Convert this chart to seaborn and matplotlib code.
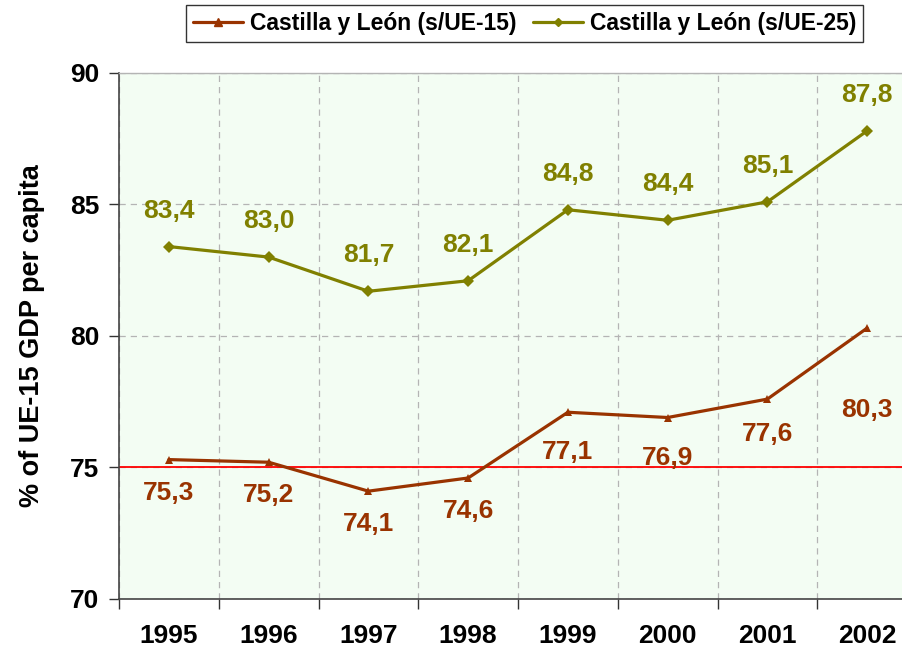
import numpy as np
import pandas as pd
import matplotlib.pyplot as plt
import seaborn as sns
from matplotlib.lines import Line2D

# Chart values
years = ['1995', '1996', '1997', '1998', '1999', '2000', '2001', '2002']
ue15 = [75.3, 75.2, 74.1, 74.6, 77.1, 76.9, 77.6, 80.3]
ue25 = [83.4, 83.0, 81.7, 82.1, 84.8, 84.4, 85.1, 87.8]
name15 = 'Castilla y León (s/UE-15)'
name25 = 'Castilla y León (s/UE-25)'

c15 = '#993300'
c25 = '#808000'

sns.set_theme(style='white')
plt.rcParams['font.family'] = ['Liberation Sans', 'DejaVu Sans']
plt.rcParams['font.weight'] = 'bold'
plt.rcParams['text.color'] = 'black'
plt.rcParams['axes.labelcolor'] = 'black'
plt.rcParams['xtick.labelcolor'] = 'black'
plt.rcParams['ytick.labelcolor'] = 'black'

pos = np.arange(len(years))
df = pd.DataFrame({
    'pos': np.concatenate([pos, pos]),
    'value': ue15 + ue25,
    'series': [name15] * len(years) + [name25] * len(years),
})

fig = plt.figure(figsize=(9.03, 6.5), dpi=100)
ax = fig.add_axes([0.1318, 0.0785, 0.8837, 0.8092])
ax.set_facecolor('#f3fdf3')

sns.lineplot(data=df, x='pos', y='value', hue='series', style='series',
             palette={name15: c15, name25: c25},
             markers={name15: '^', name25: 'D'}, dashes=False,
             linewidth=2.3, markersize=6, markeredgewidth=0,
             legend=False, ax=ax)

# reference line at 75
ax.axhline(75, color='#ff0000', linewidth=1.3, zorder=1)

ax.set_xlim(-0.5, len(years) - 0.5)
ax.set_ylim(70, 90)
ax.set_yticks([70, 75, 80, 85, 90])

# ticks at band edges, labels at centres
ax.set_xticks(np.arange(len(years) + 1) - 0.5)
ax.set_xticklabels([])
ax.set_xticks(pos, minor=True)
ax.set_xticklabels(years, minor=True)
ax.tick_params(axis='x', which='major', length=7, width=1, color='#333333',
               direction='out', bottom=True)
ax.tick_params(axis='x', which='minor', length=0, pad=18, labelsize=19,
               labelcolor='black')
ax.tick_params(axis='y', length=7, width=1, color='#333333', direction='out',
               left=True, pad=7, labelsize=19, labelcolor='black')
for lab in ax.get_xticklabels(minor=True) + ax.get_yticklabels():
    lab.set_fontweight('bold')

ax.grid(True, which='major', color='#b4b4b4', linestyle=(0, (5, 4)), linewidth=0.9)
ax.set_axisbelow(True)
for side in ['left', 'bottom']:
    ax.spines[side].set_color('#444444')
    ax.spines[side].set_linewidth(1.2)
ax.spines['top'].set_color('#b4b4b4')
ax.spines['top'].set_linewidth(1)
ax.spines['right'].set_visible(False)

ax.set_xlabel('')
ax.set_ylabel('% of UE-15 GDP per capita', fontsize=19.5, fontweight='bold',
              color='black', labelpad=18)

# data labels
below = [-33, -33, -33, -33, -40, -40, -35, -82]
for i, v in enumerate(ue15):
    ax.annotate(f'{v:.1f}'.replace('.', ','), (pos[i], v), xytext=(0, below[i]),
                textcoords='offset pixels', ha='center', va='center',
                fontsize=19, fontweight='bold', color=c15)
for i, v in enumerate(ue25):
    ax.annotate(f'{v:.1f}'.replace('.', ','), (pos[i], v), xytext=(0, 36),
                textcoords='offset pixels', ha='center', va='center',
                fontsize=19, fontweight='bold', color=c25)

handles = [Line2D([], [], color=c15, marker='^', markersize=6, linewidth=2.3),
           Line2D([], [], color=c25, marker='D', markersize=4.5, linewidth=2.3)]
leg = fig.legend(handles, [name15, name25], loc='center', ncol=2,
                 bbox_to_anchor=(0.581, 0.964), frameon=True, fancybox=False,
                 handlelength=2.2, handletextpad=0.3, columnspacing=0.7,
                 borderpad=0.3, prop={'weight': 'bold', 'size': 16.5})
leg.get_frame().set_edgecolor('black')
leg.get_frame().set_linewidth(1)
for t in leg.get_texts():
    t.set_color('black')

fig.savefig('out.png', dpi=100)
